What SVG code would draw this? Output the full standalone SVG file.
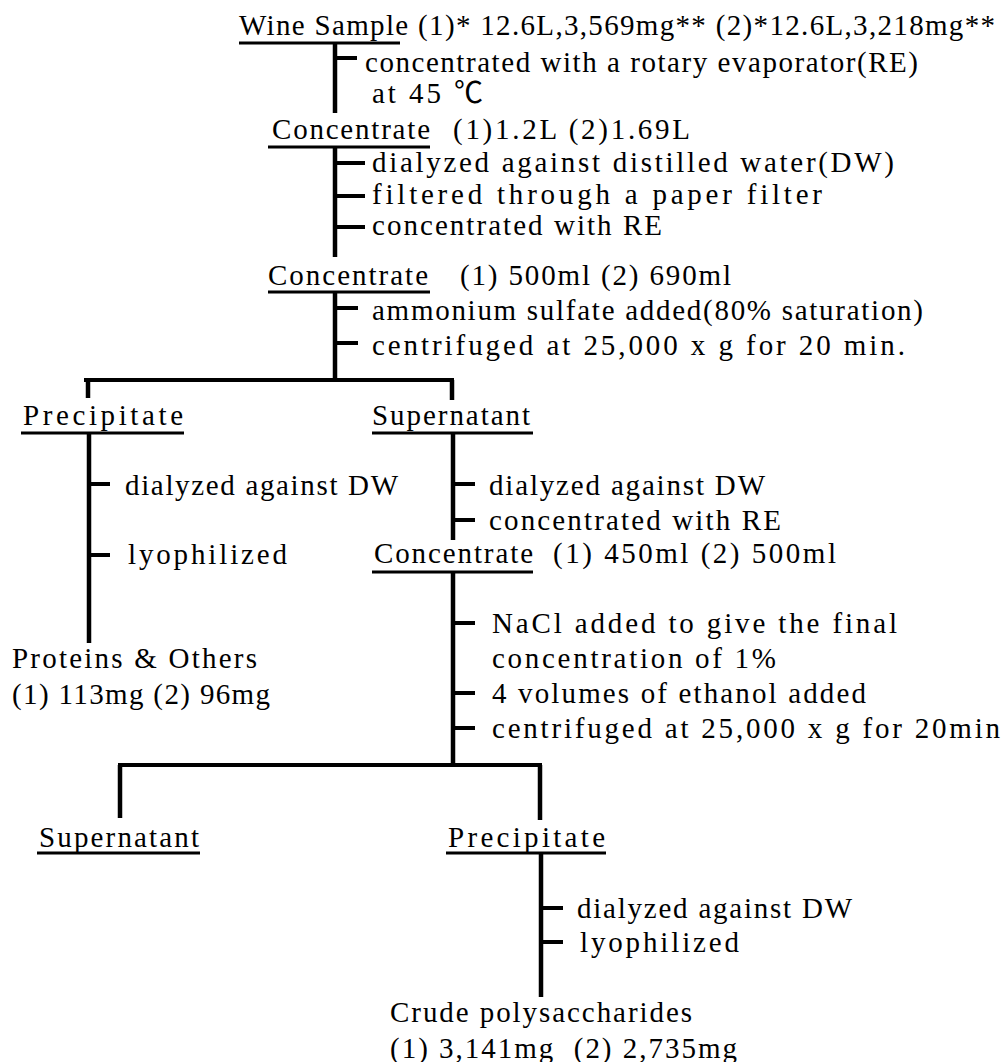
<svg xmlns="http://www.w3.org/2000/svg" width="1002" height="1062" viewBox="0 0 1002 1062">
<style>
text{font-family:"Liberation Serif","Noto Sans CJK JP",serif;font-size:29px;fill:#000;white-space:pre}
.ul{stroke:#000;stroke-width:3}
.v{stroke:#000;stroke-width:4.5;fill:none}
.h{stroke:#000;stroke-width:4;fill:none}
.t{stroke:#000;stroke-width:4}
</style>
<rect width="1002" height="1062" fill="#fff"/>
<g id="connectors">
<line class="v" x1="335" y1="42" x2="335" y2="113"/>
<line class="t" x1="335" y1="58" x2="357" y2="58"/>
<line class="v" x1="335" y1="146" x2="335" y2="257"/>
<line class="t" x1="335" y1="163" x2="365" y2="163"/>
<line class="t" x1="335" y1="196" x2="365" y2="196"/>
<line class="t" x1="335" y1="227" x2="365" y2="227"/>
<line class="v" x1="335" y1="291" x2="335" y2="381"/>
<line class="t" x1="335" y1="308" x2="358" y2="308"/>
<line class="t" x1="335" y1="343" x2="358" y2="343"/>
<path class="h" d="M84 380 H454"/>
<line class="v" x1="88" y1="380" x2="88" y2="398"/>
<line class="v" x1="452" y1="380" x2="452" y2="400"/>
<line class="v" x1="89" y1="432" x2="89" y2="643"/>
<line class="t" x1="89" y1="484" x2="110" y2="484"/>
<line class="t" x1="89" y1="555" x2="110" y2="555"/>
<line class="v" x1="453" y1="432" x2="453" y2="540"/>
<line class="t" x1="453" y1="484" x2="475" y2="484"/>
<line class="t" x1="453" y1="520" x2="475" y2="520"/>
<line class="v" x1="453" y1="571" x2="453" y2="766"/>
<line class="t" x1="453" y1="623" x2="475" y2="623"/>
<line class="t" x1="453" y1="693" x2="475" y2="693"/>
<line class="t" x1="453" y1="728" x2="475" y2="728"/>
<path class="h" d="M118 765 H542"/>
<line class="v" x1="120" y1="765" x2="120" y2="818"/>
<line class="v" x1="540" y1="765" x2="540" y2="820"/>
<line class="v" x1="541" y1="852" x2="541" y2="997"/>
<line class="t" x1="541" y1="908" x2="563" y2="908"/>
<line class="t" x1="541" y1="942" x2="563" y2="942"/>
</g>
<g id="wine-sample">
<text x="239" y="35" textLength="756" lengthAdjust="spacing">Wine Sample (1)* 12.6L,3,569mg** (2)*12.6L,3,218mg**</text>
<line class="ul" x1="239" y1="43" x2="400" y2="43"/>
</g>
<g id="step1">
<text x="365" y="72" textLength="553" lengthAdjust="spacing">concentrated with a rotary evaporator(RE)</text>
<text x="372" y="103" textLength="111" lengthAdjust="spacing">at 45 ℃</text>
</g>
<g id="concentrate1">
<text x="272" y="139" textLength="158" lengthAdjust="spacing">Concentrate</text>
<line class="ul" x1="268" y1="147" x2="430" y2="147"/>
<text x="453" y="139" textLength="237" lengthAdjust="spacing">(1)1.2L (2)1.69L</text>
</g>
<g id="step2">
<text x="372" y="172" textLength="522" lengthAdjust="spacing">dialyzed against distilled water(DW)</text>
<text x="372" y="204" textLength="450" lengthAdjust="spacing">filtered through a paper filter</text>
<text x="372" y="235" textLength="290" lengthAdjust="spacing">concentrated with RE</text>
</g>
<g id="concentrate2">
<text x="268" y="285" textLength="160" lengthAdjust="spacing">Concentrate</text>
<line class="ul" x1="268" y1="292" x2="430" y2="292"/>
<text x="460" y="285" textLength="271" lengthAdjust="spacing">(1) 500ml (2) 690ml</text>
</g>
<g id="step3">
<text x="372" y="320" textLength="551" lengthAdjust="spacing">ammonium sulfate added(80% saturation)</text>
<text x="372" y="355" textLength="533" lengthAdjust="spacing">centrifuged at 25,000 x g for 20 min.</text>
</g>
<g id="precipitate1">
<text x="23" y="425" textLength="160" lengthAdjust="spacing">Precipitate</text>
<line class="ul" x1="21" y1="433" x2="184" y2="433"/>
</g>
<g id="step4">
<text x="125" y="495" textLength="273" lengthAdjust="spacing">dialyzed against DW</text>
<text x="128" y="564" textLength="159" lengthAdjust="spacing">lyophilized</text>
</g>
<g id="proteins">
<text x="12" y="668" textLength="245" lengthAdjust="spacing">Proteins &amp; Others</text>
<text x="12" y="704" textLength="258" lengthAdjust="spacing">(1) 113mg (2) 96mg</text>
</g>
<g id="supernatant1">
<text x="372" y="425" textLength="158" lengthAdjust="spacing">Supernatant</text>
<line class="ul" x1="372" y1="433" x2="533" y2="433"/>
</g>
<g id="step5">
<text x="489" y="495" textLength="276" lengthAdjust="spacing">dialyzed against DW</text>
<text x="489" y="530" textLength="292" lengthAdjust="spacing">concentrated with RE</text>
</g>
<g id="concentrate3">
<text x="374" y="563" textLength="159" lengthAdjust="spacing">Concentrate</text>
<line class="ul" x1="372" y1="572" x2="533" y2="572"/>
<text x="553" y="563" textLength="283" lengthAdjust="spacing">(1) 450ml (2) 500ml</text>
</g>
<g id="step6">
<text x="492" y="633" textLength="405" lengthAdjust="spacing">NaCl added to give the final</text>
<text x="492" y="668" textLength="284" lengthAdjust="spacing">concentration of 1%</text>
<text x="492" y="703" textLength="374" lengthAdjust="spacing">4 volumes of ethanol added</text>
<text x="492" y="738" textLength="508" lengthAdjust="spacing">centrifuged at 25,000 x g for 20min</text>
</g>
<g id="supernatant2">
<text x="39" y="847" textLength="160" lengthAdjust="spacing">Supernatant</text>
<line class="ul" x1="37" y1="853" x2="200" y2="853"/>
</g>
<g id="precipitate2">
<text x="448" y="847" textLength="157" lengthAdjust="spacing">Precipitate</text>
<line class="ul" x1="446" y1="853" x2="606" y2="853"/>
</g>
<g id="step7">
<text x="577" y="918" textLength="275" lengthAdjust="spacing">dialyzed against DW</text>
<text x="580" y="952" textLength="159" lengthAdjust="spacing">lyophilized</text>
</g>
<g id="crude">
<text x="390" y="1022" textLength="302" lengthAdjust="spacing">Crude polysaccharides</text>
<text x="390" y="1058" textLength="347" lengthAdjust="spacing">(1) 3,141mg  (2) 2,735mg</text>
</g>
</svg>
